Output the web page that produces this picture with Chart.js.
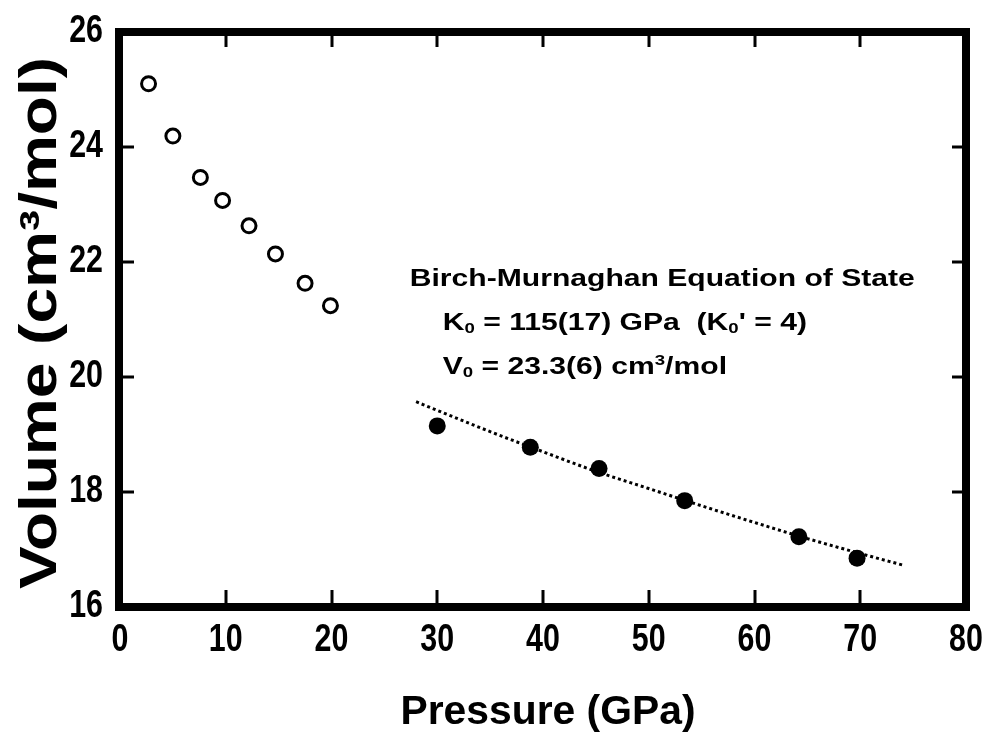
<!DOCTYPE html>
<html lang="en">
<head>
    <meta charset="UTF-8">
    <title>Volume vs Pressure</title>
    <style>
        body { margin: 0; background: #fff; }
        canvas { display: block; }
    </style>
    <script src="https://cdn.jsdelivr.net/npm/chart.js"></script>
</head>
<body>
    <canvas id="chart" width="990" height="755"></canvas>
    <script>
        // low pressure phase (open circles)
        const openP = [2.7, 5.0, 7.6, 9.7, 12.2, 14.7, 17.5, 19.9];
        const openV = [25.10, 24.19, 23.47, 23.07, 22.63, 22.14, 21.63, 21.24];

        // high pressure phase (filled circles)
        const filledP = [30.0, 38.8, 45.3, 53.4, 64.2, 69.7];
        const filledV = [19.15, 18.78, 18.41, 17.85, 17.22, 16.85];

        // Birch-Murnaghan fit
        const fitP = [28, 30, 35, 40, 45, 50, 55, 60, 65, 70, 74];
        const fitV = [19.57, 19.42, 19.05, 18.70, 18.36, 18.06, 17.76, 17.47, 17.19, 16.93, 16.73];

        const xTicks = [0, 10, 20, 30, 40, 50, 60, 70, 80];
        const yTicks = [16, 18, 20, 22, 24, 26];

        const xTitle = 'Pressure (GPa)';
        const yTitle = 'Volume (cm\u00B3/mol)';
        const noteLines = [
            [['Birch-Murnaghan Equation of State', 'n']],
            [['K', 'n'], ['0', 'sub'], [' = 115(17) GPa  (K', 'n'], ['0', 'sub'], ["' = 4)", 'n']],
            [['V', 'n'], ['0', 'sub'], [' = 23.3(6) cm', 'n'], ['3', 'sup'], ['/mol', 'n']]
        ];

        const sans = "'Liberation Sans', Arial, sans-serif";

        function toXY(xs, ys) {
            return xs.map((x, i) => ({ x: x, y: ys[i] }));
        }

        // draw text stretched to a given width (the original is squashed/stretched)
        function fitText(ctx, text, x, y, width, font) {
            ctx.font = font;
            const w = ctx.measureText(text).width;
            ctx.save();
            ctx.translate(x, y);
            ctx.scale(width / w, 1);
            ctx.textAlign = 'center';
            ctx.textBaseline = 'middle';
            ctx.fillText(text, 0, 0);
            ctx.restore();
        }

        // condensed tick label
        function tickText(ctx, text, x, y, align) {
            ctx.save();
            ctx.translate(x, y);
            ctx.scale(0.8, 1);
            ctx.font = 'bold 38px ' + sans;
            ctx.textAlign = align;
            ctx.textBaseline = 'middle';
            ctx.fillText(text, 0, 0);
            ctx.restore();
        }

        function drawRich(ctx, parts, x, y, size, sx) {
            ctx.save();
            ctx.translate(x, y);
            ctx.scale(sx, 1);
            ctx.textBaseline = 'alphabetic';
            ctx.textAlign = 'left';
            let cx = 0;
            parts.forEach(([t, kind]) => {
                let fs = size, dy = 0;
                if (kind === 'sub') { fs = size * 0.62; dy = size * 0.12; }
                if (kind === 'sup') { fs = size * 0.62; dy = -size * 0.38; }
                ctx.font = 'bold ' + fs + 'px ' + sans;
                ctx.fillText(t, cx, dy);
                cx += ctx.measureText(t).width;
            });
            ctx.restore();
        }

        const framePlugin = {
            id: 'frame',
            afterDraw(chart) {
                const ctx = chart.ctx;
                const a = chart.chartArea;
                const xs = chart.scales.x, ys = chart.scales.y;
                ctx.save();
                ctx.fillStyle = '#000';
                ctx.strokeStyle = '#000';

                // inward ticks on all four sides
                ctx.lineWidth = 3;
                ctx.beginPath();
                xTicks.slice(1, -1).forEach(v => {
                    const px = Math.round(xs.getPixelForValue(v));
                    ctx.moveTo(px, a.bottom); ctx.lineTo(px, a.bottom - 17);
                    ctx.moveTo(px, a.top); ctx.lineTo(px, a.top + 15);
                });
                yTicks.slice(1, -1).forEach(v => {
                    const py = Math.round(ys.getPixelForValue(v));
                    ctx.moveTo(a.left, py); ctx.lineTo(a.left + 14, py);
                    ctx.moveTo(a.right, py); ctx.lineTo(a.right - 14, py);
                });
                ctx.stroke();

                // heavy frame
                ctx.lineWidth = 8;
                ctx.strokeRect(a.left - 1, a.top, a.right - a.left + 1, a.bottom - a.top);

                // tick labels, placed by the scales
                xTicks.forEach(v => tickText(ctx, String(v), xs.getPixelForValue(v), 641, 'center'));
                yTicks.forEach(v => tickText(ctx, String(v), 103 / 0.8 * 0.8, ys.getPixelForValue(v), 'right'));

                // axis titles
                fitText(ctx, xTitle, (a.left + a.right) / 2 + 5, 713, 295, 'bold 40px ' + sans);
                ctx.save();
                ctx.translate(42, 323);
                ctx.rotate(-Math.PI / 2);
                fitText(ctx, yTitle, 0, 0, 532, 'bold 51px ' + sans);
                ctx.restore();

                // equation of state note
                ctx.font = 'bold 24px ' + sans;
                const sx = 505 / ctx.measureText(noteLines[0][0][0]).width;
                const nx = xs.getPixelForValue(27.4);
                drawRich(ctx, noteLines[0], nx, 286, 24, sx);
                drawRich(ctx, noteLines[1], nx + 33, 330, 24, sx);
                drawRich(ctx, noteLines[2], nx + 33, 374, 24, sx);
                ctx.restore();
            }
        };

        new Chart(document.getElementById('chart').getContext('2d'), {
            type: 'scatter',
            data: {
                datasets: [
                    {
                        label: 'fit',
                        type: 'line',
                        data: toXY(fitP, fitV),
                        borderColor: '#000',
                        borderWidth: 3,
                        borderDash: [3, 3],
                        pointRadius: 0,
                        cubicInterpolationMode: 'monotone',
                        fill: false
                    },
                    {
                        label: 'low',
                        data: toXY(openP, openV),
                        pointRadius: 7,
                        pointBorderWidth: 3,
                        pointBackgroundColor: '#fff',
                        pointBorderColor: '#000'
                    },
                    {
                        label: 'high',
                        data: toXY(filledP, filledV),
                        pointRadius: 8.5,
                        pointBorderWidth: 0,
                        pointBackgroundColor: '#000',
                        pointBorderColor: '#000'
                    }
                ]
            },
            options: {
                responsive: false,
                animation: false,
                devicePixelRatio: 1,
                layout: { padding: { top: 32, right: 24, left: 0, bottom: 0 } },
                plugins: { legend: { display: false }, tooltip: { enabled: false } },
                scales: {
                    x: {
                        type: 'linear',
                        min: 0, max: 80,
                        afterFit: s => { s.height = 148; },
                        afterBuildTicks: s => { s.ticks = xTicks.map(v => ({ value: v })); },
                        grid: { display: false, drawTicks: false },
                        border: { display: false },
                        ticks: { display: false }
                    },
                    y: {
                        type: 'linear',
                        min: 16, max: 26,
                        afterFit: s => { s.width = 120; },
                        afterBuildTicks: s => { s.ticks = yTicks.map(v => ({ value: v })); },
                        grid: { display: false, drawTicks: false },
                        border: { display: false },
                        ticks: { display: false }
                    }
                }
            },
            plugins: [framePlugin]
        });
    </script>
</body>
</html>
